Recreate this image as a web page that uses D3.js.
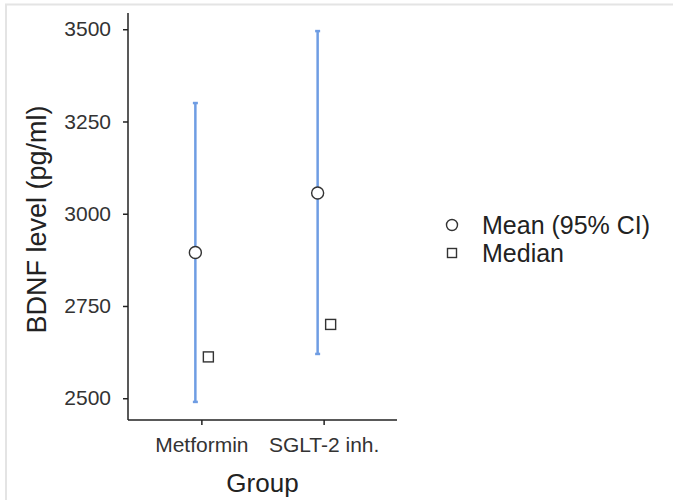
<!DOCTYPE html>
<html>
<head>
<meta charset="utf-8">
<script src="https://cdn.jsdelivr.net/npm/d3@7"></script>
<style>
  body { margin: 0; background: #fff; }
  svg { font-family: "Liberation Sans", Arial, sans-serif; }
</style>
</head>
<body>
<svg id="chart" width="673" height="500"></svg>
<script>
// data
const groups = ["Metformin", "SGLT-2 inh."];
const means = [2895, 3056];
const ciLow = [2490, 2620];
const ciHigh = [3300, 3495];
const medians = [2612, 2700];
const yTicks = [2500, 2750, 3000, 3250, 3500];
const legendLabels = ["Mean (95% CI)", "Median"];

const svg = d3.select("#chart");
const panel = { left: 128, right: 397, top: 13, bottom: 420 };

// light frame round the picture (top + left only)
svg.append("line").attr("x1", 5).attr("x2", 673).attr("y1", 4.5).attr("y2", 4.5)
   .style("stroke", "#e4e4e4").style("stroke-width", 2);
svg.append("line").attr("x1", 6).attr("x2", 6).attr("y1", 4).attr("y2", 500)
   .style("stroke", "#e4e4e4").style("stroke-width", 2);

const x = d3.scalePoint().domain(groups).range([panel.left, panel.right]).padding(0.6);
const y = d3.scaleLinear().domain([2441, 3544]).range([panel.bottom, panel.top]);

const rows = groups.map((g, i) => ({ group: g, mean: means[i], lo: ciLow[i], hi: ciHigh[i], median: medians[i] }));

// axes
const yAxis = svg.append("g").attr("transform", `translate(${panel.left},0)`)
  .call(d3.axisLeft(y).tickValues(yTicks).tickFormat(d3.format("d")).tickSize(5).tickPadding(12).tickSizeOuter(0));
const xAxis = svg.append("g").attr("transform", `translate(0,${panel.bottom})`)
  .call(d3.axisBottom(x).tickSize(5).tickPadding(12).tickSizeOuter(0));
[yAxis, xAxis].forEach(a => {
  a.select(".domain").style("stroke", "#222").style("stroke-width", 1.5);
  a.selectAll(".tick line").style("stroke", "#222").style("stroke-width", 1.5);
  a.selectAll(".tick text").style("font-size", "21px").style("fill", "#333")
   .style("font-family", "Liberation Sans, Arial, sans-serif");
});
// domain path of d3 starts at range ends, extend to panel corners
yAxis.select(".domain").attr("d", `M0,${panel.top}V${panel.bottom}`);
xAxis.select(".domain").attr("d", `M${panel.left},0H${panel.right}`);

const dodgeL = -6, dodgeR = 7;
const ciColor = "#6f9de3";

// CI lines + caps
const ci = svg.append("g");
ci.selectAll("line.ci").data(rows).join("line").attr("class", "ci")
  .attr("x1", d => x(d.group) + dodgeL).attr("x2", d => x(d.group) + dodgeL)
  .attr("y1", d => y(d.lo)).attr("y2", d => y(d.hi))
  .style("stroke", ciColor).style("stroke-width", 2.5);
ci.selectAll("line.caphi").data(rows).join("line").attr("class", "caphi")
  .attr("x1", d => x(d.group) + dodgeL - 2.5).attr("x2", d => x(d.group) + dodgeL + 2.5)
  .attr("y1", d => y(d.hi)).attr("y2", d => y(d.hi))
  .style("stroke", ciColor).style("stroke-width", 2.5);
ci.selectAll("line.caplo").data(rows).join("line").attr("class", "caplo")
  .attr("x1", d => x(d.group) + dodgeL - 2.5).attr("x2", d => x(d.group) + dodgeL + 2.5)
  .attr("y1", d => y(d.lo)).attr("y2", d => y(d.lo))
  .style("stroke", ciColor).style("stroke-width", 2.5);

// means
svg.selectAll("circle.mean").data(rows).join("circle").attr("class", "mean")
  .attr("cx", d => x(d.group) + dodgeL).attr("cy", d => y(d.mean)).attr("r", 6)
  .style("fill", "#fff").style("stroke", "#333").style("stroke-width", 1.4);

// medians
svg.selectAll("rect.median").data(rows).join("rect").attr("class", "median")
  .attr("x", d => x(d.group) + dodgeR - 5).attr("y", d => y(d.median) - 5)
  .attr("width", 10).attr("height", 10)
  .style("fill", "#fff").style("stroke", "#333").style("stroke-width", 1.4);

// axis titles
svg.append("text").attr("x", (panel.left + panel.right) / 2).attr("y", 492)
  .attr("text-anchor", "middle").style("font-size", "26px").style("fill", "#222").text("Group");
svg.append("text").attr("transform", `translate(46,${(panel.top + panel.bottom) / 2 + 3}) rotate(-90)`)
  .attr("text-anchor", "middle").style("font-size", "27px").style("fill", "#222").text("BDNF level (pg/ml)");

// legend
const rowGap = 28;
const leg = svg.append("g").attr("transform", "translate(452,225)");
leg.append("circle").attr("cx", 0).attr("cy", 0).attr("r", 5.5)
  .style("fill", "#fff").style("stroke", "#333").style("stroke-width", 1.4);
leg.append("rect").attr("x", -4.5).attr("y", rowGap - 4.5).attr("width", 9).attr("height", 9)
  .style("fill", "#fff").style("stroke", "#333").style("stroke-width", 1.4);
leg.selectAll("text").data(legendLabels).join("text")
  .attr("x", 30).attr("y", (d, i) => i * rowGap + 9)
  .style("font-size", "25px").style("fill", "#222").text(d => d);
</script>
</body>
</html>
